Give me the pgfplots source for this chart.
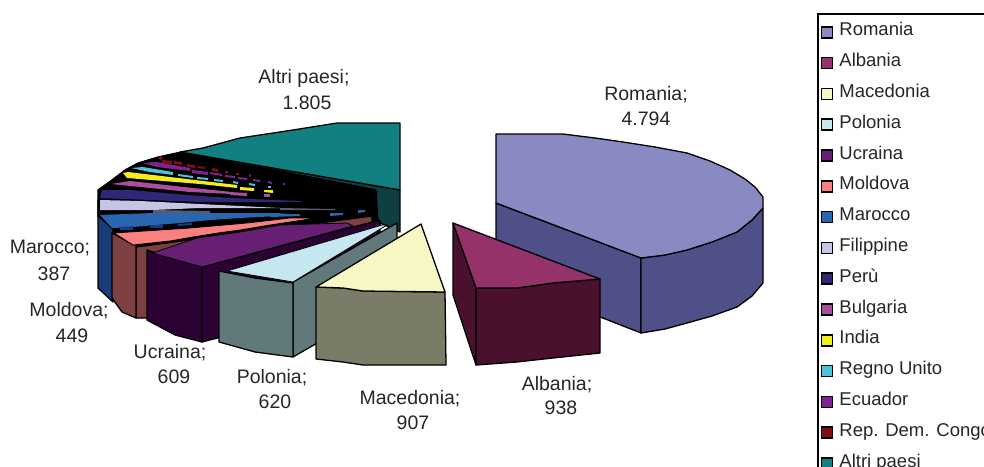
\documentclass[border=0pt]{standalone}
\usepackage{fontspec}
\setmainfont{Liberation Sans}
\usepackage{pgfplots}
\pgfplotsset{compat=1.18}
\definecolor{romT}{HTML}{8A8AC3}\definecolor{romS}{HTML}{4F5088}
\definecolor{albT}{HTML}{953269}\definecolor{albS}{HTML}{4A112E}
\definecolor{macT}{HTML}{F7F7C4}\definecolor{macS}{HTML}{7B7C68}
\definecolor{polT}{HTML}{C5E8F0}\definecolor{polS}{HTML}{62797B}
\definecolor{ucrT}{HTML}{661F73}\definecolor{ucrS}{HTML}{2B0233}
\definecolor{molT}{HTML}{FB8080}\definecolor{molS}{HTML}{7D4040}
\definecolor{marT}{HTML}{2966B0}\definecolor{marS}{HTML}{1A3C78}
\definecolor{filT}{HTML}{C5C5E5}\definecolor{filS}{HTML}{5A5A70}
\definecolor{perT}{HTML}{2F2878}
\definecolor{bulT}{HTML}{A94F9E}
\definecolor{indT}{HTML}{F2EE1E}
\definecolor{regT}{HTML}{4AC4D8}
\definecolor{ecuT}{HTML}{7F2390}
\definecolor{conT}{HTML}{7E0F14}
\definecolor{altT}{HTML}{128080}\definecolor{altS}{HTML}{0F3F3F}
\tikzset{
  face/.style={fill=#1,draw=black,line width=1.3pt,line join=round},
  frag/.style={fill=#1,draw=none},
  lab/.style={anchor=base,text=black!85,inner sep=0pt,font=\fontsize{19.5}{22}\selectfont},
}
\begin{document}
\begin{tikzpicture}
\path[use as bounding box,clip] (0,0) rectangle (984pt,466pt);
\begin{axis}[
  at={(0,0)},anchor=south west,
  scale only axis,width=984pt,height=466pt,
  xmin=0,xmax=984,ymin=0,ymax=466,y dir=reverse,
  hide axis,clip=false,
  legend image code/.code={\draw[#1] (0pt,-9pt) rectangle (11pt,2pt);},
  legend cell align=left,
  legend style={at={(0.8303,0.972)},anchor=north west,draw=black,line width=1.6pt,
    inner sep=3pt,row sep=6.8pt,column sep=5pt,font=\fontsize{18.5}{21}\selectfont,text=black!85,
    nodes={text height=18pt,text depth=4pt,inner sep=1pt},
    },
]
% legend entries, in the order of the data
\addlegendimage{fill=romT,draw=black,line width=1.6pt}\addlegendentry{Romania}
\addlegendimage{fill=albT,draw=black,line width=1.6pt}\addlegendentry{Albania}
\addlegendimage{fill=macT,draw=black,line width=1.6pt}\addlegendentry{Macedonia}
\addlegendimage{fill=polT,draw=black,line width=1.6pt}\addlegendentry{Polonia}
\addlegendimage{fill=ucrT,draw=black,line width=1.6pt}\addlegendentry{Ucraina}
\addlegendimage{fill=molT,draw=black,line width=1.6pt}\addlegendentry{Moldova}
\addlegendimage{fill=marT,draw=black,line width=1.6pt}\addlegendentry{Marocco}
\addlegendimage{fill=filT,draw=black,line width=1.6pt}\addlegendentry{Filippine}
\addlegendimage{fill=perT,draw=black,line width=1.6pt}\addlegendentry{Perù}
\addlegendimage{fill=bulT,draw=black,line width=1.6pt}\addlegendentry{Bulgaria}
\addlegendimage{fill=indT,draw=black,line width=1.6pt}\addlegendentry{India}
\addlegendimage{fill=regT,draw=black,line width=1.6pt}\addlegendentry{Regno Unito}
\addlegendimage{fill=ecuT,draw=black,line width=1.6pt}\addlegendentry{Ecuador}
\addlegendimage{fill=conT,draw=black,line width=1.6pt}\addlegendentry{Rep. Dem. Congo}
\addlegendimage{fill=altT,draw=black,line width=1.6pt}\addlegendentry{Altri paesi}

% dark interior of the back of the pie
\addplot[forget plot,face=black] coordinates {(98,190)(112,180)(125,170)(138,163)(158,157)(181,152)(378,190)(380,225)(136,252)(113,232)(98,217)} -- cycle;

% Altri paesi
\addplot[forget plot,face=altS] coordinates {(181,152)(400,190)(400,232)(378,222)(376,190)(280,171)(247,165)(207,156)} -- cycle;
\addplot[forget plot,face=altT] coordinates {(180,152)(203,148)(240,138)(293,130)(337,123)(400,123)(400,190)} -- cycle;

% Rep. Dem. Congo
\addplot[forget plot,frag=conT] coordinates {(158,157)(161,156)(163,159)(160,160)} -- cycle;
\addplot[forget plot,frag=conT] coordinates {(162,160)(172,161)(172,164)(162,163)} -- cycle;
\addplot[forget plot,frag=conT] coordinates {(174,161)(182,162)(182,165)(174,164)} -- cycle;
\addplot[forget plot,frag=conT] coordinates {(187,164)(195,165)(195,168)(187,167)} -- cycle;
\addplot[forget plot,frag=conT] coordinates {(198,166)(205,167)(205,169)(198,168)} -- cycle;
\addplot[forget plot,frag=conT] coordinates {(212,168)(218,169)(218,172)(212,171)} -- cycle;
\addplot[forget plot,frag=conT] coordinates {(225,171)(228,171)(228,174)(225,173)} -- cycle;
\addplot[forget plot,frag=conT] coordinates {(236,173)(239,173)(239,175)(236,175)} -- cycle;
\addplot[forget plot,frag=conT] coordinates {(249,174)(251,174)(251,177)(249,177)} -- cycle;

% Ecuador
\addplot[forget plot,frag=ecuT] coordinates {(143,163)(157,162)(190,168)(190,171)(157,167)} -- cycle;
\addplot[forget plot,frag=ecuT] coordinates {(192,170)(208,172)(208,175)(192,173)} -- cycle;
\addplot[forget plot,frag=ecuT] coordinates {(210,172)(222,174)(222,176)(210,174)} -- cycle;
\addplot[forget plot,frag=ecuT] coordinates {(225,175)(235,176)(235,178)(225,177)} -- cycle;
\addplot[forget plot,frag=ecuT] coordinates {(238,177)(247,178)(247,180)(238,179)} -- cycle;
\addplot[forget plot,frag=ecuT] coordinates {(253,179)(260,180)(260,182)(253,181)} -- cycle;
\addplot[forget plot,frag=ecuT] coordinates {(268,181)(272,182)(272,184)(268,183)} -- cycle;
\addplot[forget plot,frag=ecuT] coordinates {(283,183)(285,183)(285,185)(283,185)} -- cycle;

% Regno Unito
\addplot[forget plot,frag=regT] coordinates {(131,168)(143,167)(173,172)(173,175)(150,172)} -- cycle;
\addplot[forget plot,frag=regT] coordinates {(178,174)(193,176)(193,178)(178,176)} -- cycle;
\addplot[forget plot,frag=regT] coordinates {(197,177)(208,178)(208,180)(197,179)} -- cycle;
\addplot[forget plot,frag=regT] coordinates {(214,179)(223,180)(223,182)(214,181)} -- cycle;
\addplot[forget plot,frag=regT] coordinates {(233,181)(238,182)(238,184)(233,183)} -- cycle;
\addplot[forget plot,frag=regT] coordinates {(249,183)(255,184)(255,186)(249,185)} -- cycle;
\addplot[forget plot,frag=regT] coordinates {(268,186)(271,186)(271,188)(268,188)} -- cycle;

% India
\addplot[forget plot,frag=indT] coordinates {(123,173)(128,172)(237,185)(237,188)(200,184)(127,178)} -- cycle;
\addplot[forget plot,frag=indT] coordinates {(240,187)(254,188)(254,191)(240,190)} -- cycle;
\addplot[forget plot,frag=indT] coordinates {(264,190)(273,190)(273,193)(264,192)} -- cycle;

% Bulgaria
\addplot[forget plot,frag=bulT] coordinates {(111,184)(130,181)(193,188)(232,192)(232,194)(190,192)} -- cycle;
\addplot[forget plot,frag=bulT] coordinates {(230,192)(247,193)(247,196)(230,195)} -- cycle;
\addplot[forget plot,frag=bulT] coordinates {(264,194)(270,194)(270,197)(264,197)} -- cycle;

% Perù
\addplot[forget plot,frag=perT] coordinates {(100,198)(102,190)(130,190)(200,196)(250,199)(300,201)(302,202)(200,202)} -- cycle;

% Filippine
\addplot[forget plot,face=black] coordinates {(98,200)(280,208)(98,216)} -- cycle;
\addplot[forget plot,frag=filT] coordinates {(100,200)(140,201)(200,204)(280,208)(200,208)(153,210)(100,210)} -- cycle;
\addplot[forget plot,frag=filS] coordinates {(153,210)(210,211)(210,214)(153,213)} -- cycle;
\addplot[forget plot,frag=filS] coordinates {(280,208)(335,209)(335,210)(280,210)} -- cycle;

% Marocco
\addplot[forget plot,face=marS] coordinates {(98,216)(113,229)(113,302)(98,288)} -- cycle;
\addplot[forget plot,frag=marT] coordinates {(100,215)(153,213)(277,213)(297,215)(240,218)(210,220)(180,223)(133,227)(112,228)} -- cycle;
\addplot[forget plot,frag=marT] coordinates {(270,215)(300,214)(300,216)(270,217)} -- cycle;
\addplot[forget plot,frag=marT] coordinates {(330,213)(343,213)(343,215)(330,216)} -- cycle;
\addplot[forget plot,frag=marT] coordinates {(358,210)(365,210)(365,212)(358,213)} -- cycle;
\addplot[forget plot,frag=marS] coordinates {(120,227)(133,226)(133,230)(120,230)} -- cycle;
\addplot[forget plot,frag=marS] coordinates {(150,225)(163,225)(163,228)(150,228)} -- cycle;
\addplot[forget plot,frag=marS] coordinates {(178,224)(192,223)(192,225)(178,226)} -- cycle;

% Moldova
\addplot[forget plot,face=molS] coordinates {(136,247)(372,216)(372,230)(147,318)(136,318)} -- cycle;
\addplot[forget plot,face=molS] coordinates {(112,233)(136,246)(136,318)(122,312)(112,298)} -- cycle;
\addplot[forget plot,fill=molT,draw=black,line width=0.8pt] coordinates {(114,233)(190,228)(247,223)(290,218)(317,218)(290,222)(270,225)(240,230)(218,233)(193,237)(170,241)(133,245)} -- cycle;

% Ucraina
\addplot[forget plot,face=ucrS] coordinates {(202,267)(380,220)(380,296)(202,342)} -- cycle;
\addplot[forget plot,face=ucrS] coordinates {(147,250)(202,267)(202,342)(175,335)(147,320)} -- cycle;
\addplot[forget plot,fill=ucrT,draw=black,line width=0.8pt] coordinates {(152,253)(197,238)(240,232)(280,225)(347,223)(353,226)(202,267)} -- cycle;

% Polonia
\addplot[forget plot,face=polS] coordinates {(293,282)(397,223)(397,297)(293,357)} -- cycle;
\addplot[forget plot,face=polS] coordinates {(219,271)(255,278)(293,283)(293,357)(255,352)(219,342)} -- cycle;
\addplot[forget plot,fill=polT,draw=black,line width=0.8pt] coordinates {(227,271)(382,225)(387,225)(293,282)} -- cycle;

% Macedonia
\addplot[forget plot,face=macS] coordinates {(316,287)(343,288)(363,291)(445,292)(446,365)(363,365)(343,362)(316,359)} -- cycle;
\addplot[forget plot,face=macT] coordinates {(421,224)(445,292)(363,291)(343,288)(316,287)} -- cycle;

% Romania
\addplot[forget plot,face=romS] coordinates {(496,203)(641,258)(641,333)(496,276)} -- cycle;
\addplot[forget plot,face=romS] coordinates {(641,258)(665,255)(687,250)(712,242)(737,232)(752,220)(763,208)(763,283)(752,296)(737,307)(712,316)(687,323)(665,329)(641,333)} -- cycle;
\addplot[forget plot,face=romT] coordinates {(496,134)(530,134)(563,134)(595,138)(623,142)(655,147)(687,153)(710,161)(730,170)(745,179)(755,187)(763,197)(763,208)(752,220)(737,232)(712,242)(687,250)(665,255)(641,258)(496,203)} -- cycle;

% Albania
\addplot[forget plot,face=albS] coordinates {(453,223)(476,288)(476,365)(453,295)} -- cycle;
\addplot[forget plot,face=albS] coordinates {(476,288)(517,288)(553,283)(600,279)(600,353)(553,358)(517,362)(476,365)} -- cycle;
\addplot[forget plot,face=albT] coordinates {(453,223)(600,279)(553,283)(517,288)(476,288)} -- cycle;

% category name and value of each slice
\node[lab] at (axis cs:646,100) {Romania;};
\node[lab] at (axis cs:646,125) {4.794};
\node[lab] at (axis cs:557,390) {Albania;};
\node[lab] at (axis cs:561,414) {938};
\node[lab] at (axis cs:410,404) {Macedonia;};
\node[lab] at (axis cs:413,429) {907};
\node[lab] at (axis cs:272,383) {Polonia;};
\node[lab] at (axis cs:275,408) {620};
\node[lab] at (axis cs:170,358) {Ucraina;};
\node[lab] at (axis cs:174,383) {609};
\node[lab] at (axis cs:69,316) {Moldova;};
\node[lab] at (axis cs:72,342) {449};
\node[lab] at (axis cs:50,253) {Marocco;};
\node[lab] at (axis cs:54,280) {387};
\node[lab] at (axis cs:304,83) {Altri paesi;};
\node[lab] at (axis cs:307,109) {1.805};
\end{axis}
\end{tikzpicture}
\end{document}
